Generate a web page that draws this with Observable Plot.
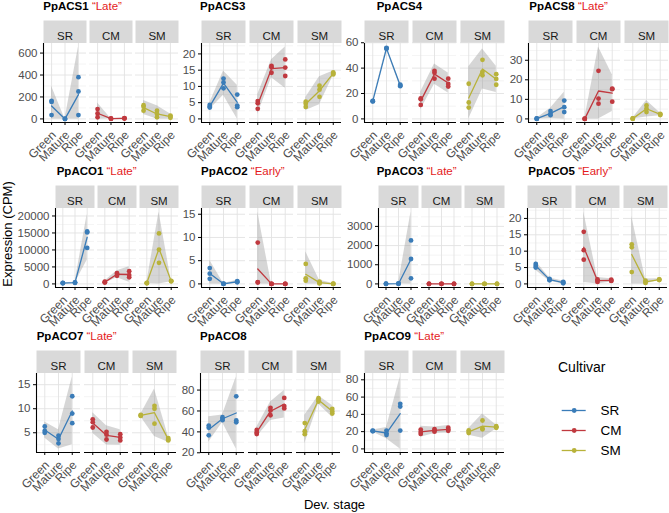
<!DOCTYPE html>
<html><head><meta charset="utf-8">
<script src="https://cdn.jsdelivr.net/npm/d3@7"></script>
<script src="https://cdn.jsdelivr.net/npm/@observablehq/plot@0.6"></script>
<style>
body{margin:0;background:#fff;font-family:"Liberation Sans",Arial,sans-serif;}
#root{position:relative;width:669px;height:513px;overflow:hidden;background:#fff;}
.title{position:absolute;font-size:11.5px;font-weight:bold;color:#000;white-space:nowrap;line-height:14px;}
.title span{color:#e41a1c;font-weight:normal;}
.panel{position:absolute;}
.lab{position:absolute;font-size:13px;color:#000;white-space:nowrap;line-height:16px;}
</style></head><body><div id="root"></div>
<script>
// ---------- data ----------
const cultivars = ["SR", "CM", "SM"];
const stages = ["Green", "Mature", "Ripe"];
const colors = ["#3a7cb8", "#c0393f", "#b8b23a"];
const genes = ["PpACS1","PpACS3","PpACS4","PpACS8","PpACO1","PpACO2","PpACO3","PpACO5","PpACO7","PpACO8","PpACO9"];
const tags  = ["Late","","","Late","Late","Early","Late","Early","Late","","Late"];

// replicate values: SR(Green,Mature,Ripe), CM(Green,Mature,Ripe), SM(Green,Mature,Ripe)
const PpACS1 = [[165,155,35],[0,0,0],[380,250,35], [90,50,15],[2,2,2],[8,5,3], [125,110,75],[75,45,15],[30,20,10]];
const PpACS3 = [[4.3,3.8,3.5],[12.4,11.2,9.4],[7.5,4.1,3.6], [5.5,4.8,3.1],[16.3,15.9,14.2],[18.3,15.8,13.2], [5.3,4.7,3.7],[10.2,9.0,6.8],[14.3,14.0,13.7]];
const PpACS4 = [[14.2,14,13.8],[56,55.5,55.2],[27,26.3,25.8], [16.1,15.5,11],[37.9,36.3,31.7],[31.7,27.5,25.5], [27.7,12.9,8.9],[46.5,37.1,34.4],[35.2,31.5,26.9]];
const PpACS8 = [[0.2,0.1,0],[4,2.6,1.9],[9.4,6,3.5], [0.1,0,0],[24.6,10.4,7.8],[15.5,15.2,8.8], [0.2,0.1,0.1],[6.9,5.2,3.5],[2.6,2.3,2.0]];
const PpACO1 = [[300,250,200],[420,380,330],[15450,15150,10600], [650,500,400],[3200,2950,2400],[3750,2600,1950], [300,250,200],[14850,10100,6200],[900,820,750]];
const PpACO2 = [[3.4,2.2,1.1],[0.05,0.02,0],[0.6,0.45,0.35], [8.9,0.4,0.3],[0,0,0],[0,0,0], [4.3,1.2,0.7],[0.5,0.2,0.1],[0.05,0,0]];
const PpACO3 = [[8,6,5],[15,10,8],[2270,1300,290], [4,3,2],[3,2,2],[3,2,1], [3,2,1],[2,2,1],[2,1,1]];
const PpACO5 = [[6.1,5.5,5.0],[1.5,1.3,1.1],[0.6,0.4,0.2], [15.9,10.3,7.4],[1.4,1.0,0.6],[1.3,1.0,0.9], [12.1,11.2,3.6],[1.0,0.6,0.3],[1.4,1.3,1.2]];
const PpACO7 = [[6.3,5.4,5.0],[4.4,3.7,2.8],[12.6,9.0,7.0], [7.8,7.2,6.1],[5.2,4.6,3.6],[4.7,4.0,3.4], [8.7,8.6,8.5],[10.6,10.0,6.9],[3.9,3.6,3.4]];
const PpACO8 = [[46,44,36.7],[54,52.5,51.2],[74,51,49.2], [41.8,39.5,38],[63,60.4,55.9],[72.5,64.7,62.4], [48.4,40.6,37.8],[72.2,70.5,69],[62,59.5,57.5]];
const PpACO9 = [[21.2,20.8,20.3],[21.2,18,16],[52.2,49,21.2], [22.4,19.6,17.3],[23,21.5,20],[24.5,22.5,21], [21.5,19.5,18.4],[32.9,23.5,22.7],[26.3,25,24.5]];
const values = [PpACS1,PpACS3,PpACS4,PpACS8,PpACO1,PpACO2,PpACO3,PpACO5,PpACO7,PpACO8,PpACO9];

// y tick labels per gene
const ticksACS1 = [0,200,400,600];
const ticksACS3 = [0,5,10,15,20];
const ticksACS4 = [0,20,40,60];
const ticksACS8 = [0,10,20,30];
const ticksACO1 = [0,5000,10000,15000,20000];
const ticksACO2 = [0,5,10,15];
const ticksACO3 = [0,1000,2000,3000];
const ticksACO5 = [0,5,10,15,20];
const ticksACO7 = [5,10,15];
const ticksACO8 = [20,40,60,80];
const ticksACO9 = [0,20,40,60,80];
const yTicks = [ticksACS1,ticksACS3,ticksACS4,ticksACS8,ticksACO1,ticksACO2,ticksACO3,ticksACO5,ticksACO7,ticksACO8,ticksACO9];

// ---------- layout (pixels) ----------
const layout = [
  {axis:42.7, right:177.7, top:20,    tx:43.3},
  {axis:199.5,right:341,   top:20,    tx:200},
  {axis:364.3,right:505,   top:20,    tx:376.7},
  {axis:527.8,right:668.3, top:20,    tx:529.3},
  {axis:55,   right:178.5, top:185,   tx:56.7},
  {axis:199.5,right:341,   top:185,   tx:201},
  {axis:377,  right:505,   top:185,   tx:376.7},
  {axis:527.3,right:668.3, top:185,   tx:528.3},
  {axis:36,   right:177,   top:349.5, tx:36.7},
  {axis:199,  right:341,   top:349.5, tx:200},
  {axis:364.3,right:505,   top:349.5, tx:364.3}
];

const root = document.getElementById("root");
const T975 = 4.302653; // t quantile, df = 2 (mean_cl_normal)
const FONT = "'Liberation Sans', Arial, sans-serif";
const H = 79, MT = 23, MB = 48, ML = 50;

function summarize(reps) {
  const pts = [], sum = [];
  cultivars.forEach((c, ci) => stages.forEach((s, si) => {
    const v = reps[ci * 3 + si];
    v.forEach(y => pts.push({c, x: si + 1, y}));
    const m = d3.mean(v), sd = d3.deviation(v) || 0, h = T975 * sd / Math.sqrt(v.length);
    sum.push({c, x: si + 1, m, lo: Math.max(0, m - h), hi: m + h});
  }));
  return {pts, sum};
}

genes.forEach((g, i) => {
  const L = layout[i];
  const {pts, sum} = summarize(values[i]);
  const ticks = yTicks[i];
  const lo = Math.min(d3.min(sum, d => d.lo), d3.min(pts, d => d.y));
  const hi = Math.max(d3.max(sum, d => d.hi), d3.max(pts, d => d.y));
  const pad = (hi - lo) * 0.05;
  const yd = [lo - pad, hi + pad];
  const step = ticks[1] - ticks[0];
  const minor = d3.range(ticks[0] - step / 2, ticks[ticks.length - 1] + step, step).filter(v => v >= yd[0] && v <= yd[1]);
  const xd = [0.4, 3.6];

  const t = document.createElement("div");
  t.className = "title";
  t.style.left = L.tx + "px";
  t.style.top = (L.top - 21) + "px";
  t.innerHTML = g + (tags[i] ? ' <span>\u201C' + tags[i] + '\u201D</span>' : "");
  root.appendChild(t);

  const chart = Plot.plot({
    width: ML + (L.right - L.axis),
    height: MT + H + MB,
    marginLeft: ML, marginRight: 0, marginTop: MT, marginBottom: MB,
    style: {fontFamily: FONT, fontSize: "11.5px", color: "#4d4d4d", background: "transparent", overflow: "visible"},
    fx: {domain: cultivars, paddingInner: 0.075, paddingOuter: 0, axis: null},
    x: {domain: xd},
    y: {domain: yd},
    color: {domain: cultivars, range: colors},
    marks: [
      Plot.frame({fill: "#d9d9d9", stroke: null, insetTop: -MT, insetBottom: H + 0.5}),
      Plot.text(cultivars, {fx: d => d, text: d => d, frameAnchor: "top", dy: -MT / 2, fill: "#1a1a1a", fontSize: 11.5}),
      Plot.ruleY(minor, {stroke: "#ececec", strokeWidth: 0.6}),
      Plot.ruleY(ticks, {stroke: "#e2e2e2", strokeWidth: 0.9}),
      Plot.ruleX([1, 2, 3], {stroke: "#e2e2e2", strokeWidth: 0.9}),
      Plot.areaY(sum, {fx: "c", x: "x", y1: "lo", y2: "hi", z: "c", fill: "#999999", fillOpacity: 0.4}),
      Plot.line(sum, {fx: "c", x: "x", y: "m", z: "c", stroke: "c", strokeWidth: 1.3}),
      Plot.dot(pts, {fx: "c", x: "x", y: "y", fill: "c", r: 2.4}),
      Plot.ruleY([yd[0]], {stroke: "black", strokeWidth: 1.1}),
      Plot.ruleX([{c: "SR", x: xd[0]}], {fx: "c", x: "x", y1: () => yd[0], y2: () => yd[1], stroke: "black", strokeWidth: 1.1}),
      Plot.axisY({ticks, tickFormat: d => String(d), tickSize: 3, tickPadding: 3, label: null, stroke: "black", fill: "#4d4d4d", fontSize: 11.5}),
      Plot.axisX({ticks: [1, 2, 3], tickFormat: v => stages[v - 1], tickRotate: -45, tickSize: 3, label: null, stroke: "black", tickPadding: 0, fill: null}),
      Plot.axisX({ticks: [1, 2, 3], tickFormat: v => stages[v - 1], tickRotate: -45, tickSize: 0, tickPadding: 10.5, dx: 2.5, label: null, fill: "#4d4d4d", fontSize: 12})
    ]
  });
  const p = document.createElement("div");
  p.className = "panel";
  p.style.left = (L.axis - ML) + "px";
  p.style.top = L.top + "px";
  p.appendChild(chart);
  root.appendChild(p);
});

// axis titles
const yl = document.createElement("div");
yl.className = "lab";
yl.textContent = "Expression (CPM)";
yl.style.left = "7.5px"; yl.style.top = "234px";
yl.style.transform = "translate(-50%,-50%) rotate(-90deg)";
root.appendChild(yl);

const xl = document.createElement("div");
xl.className = "lab";
xl.textContent = "Dev. stage";
xl.style.left = "334.5px"; xl.style.top = "505px";
xl.style.transform = "translate(-50%,-50%)";
root.appendChild(xl);

// legend
const lt = document.createElement("div");
lt.className = "lab";
lt.style.fontSize = "14px";
lt.textContent = "Cultivar";
lt.style.left = "558px"; lt.style.top = "359px";
root.appendChild(lt);

const legend = Plot.plot({
  width: 110, height: 95, margin: 0,
  style: {fontFamily: FONT, fontSize: "13.5px", color: "#000", background: "transparent", overflow: "visible"},
  x: {domain: [0, 110], range: [0, 110], axis: null},
  y: {domain: cultivars, range: [15, 77], type: "point", axis: null},
  color: {domain: cultivars, range: colors},
  marks: [
    Plot.ruleY(cultivars, {y: d => d, x1: 6.7, x2: 30.7, stroke: d => d, strokeWidth: 1.3}),
    Plot.dot(cultivars, {y: d => d, x: 18.7, fill: d => d, r: 2.4}),
    Plot.text(cultivars, {y: d => d, x: 45, text: d => d, textAnchor: "start", fill: "#000"})
  ]
});
const lg = document.createElement("div");
lg.className = "panel";
lg.style.left = "555px"; lg.style.top = "384px";
lg.appendChild(legend);
root.appendChild(lg);
</script></body></html>
